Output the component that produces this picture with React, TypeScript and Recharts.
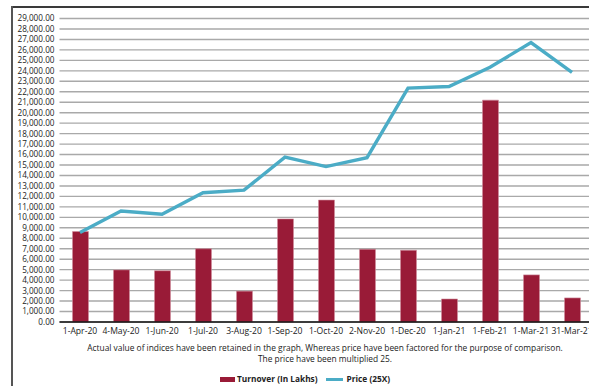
import { ComposedChart, Bar, Line, XAxis, YAxis, CartesianGrid } from "recharts"

const dates = [
  "1-Apr-20", "4-May-20", "1-Jun-20", "1-Jul-20", "3-Aug-20", "1-Sep-20", "1-Oct-20",
  "2-Nov-20", "1-Dec-20", "1-Jan-21", "1-Feb-21", "1-Mar-21", "31-Mar-21",
]
const turnover = [8640, 4980, 4900, 7000, 2950, 9850, 11650, 6950, 6850, 2200, 21200, 4500, 2300]
const price25x = [8550, 10600, 10300, 12350, 12600, 15750, 14850, 15700, 22350, 22500, 24350, 26700, 23850]
const yTicks = Array.from({ length: 30 }, (_, i) => i * 1000)

const turnoverName = "Turnover (In Lakhs)"
const priceName = "Price (25X)"
const noteLines = [
  "Actual value of indices have been retained in the graph, Whereas price have been factored for the purpose of comparison.",
  "The price have been multiplied 25.",
]

const data = dates.map((d, i) => ({ date: d, turnover: turnover[i], price: price25x[i] }))

const BAR = "#991b37"
const LINE = "#4bacc6"
const FONT = "'Open Sans', sans-serif"

const fmt = (v: number) =>
  v.toLocaleString("en-US", { minimumFractionDigits: 2, maximumFractionDigits: 2 })

export default function App() {
  return (
    <div
      style={{
        position: "fixed", left: 0, top: 0, width: 589, height: 386,
        overflow: "hidden", background: "#fff", fontFamily: FONT,
      }}
    >
      {/* frame */}
      <div style={{ position: "absolute", left: 11, top: 6, width: 600, height: 2, background: "#3a3a3a" }} />
      <div style={{ position: "absolute", left: 11, top: 6, width: 2, height: 400, background: "#555" }} />

      <div style={{ position: "absolute", left: 0, top: 0 }}>
        <ComposedChart
          width={600}
          height={340}
          data={data}
          margin={{ top: 18.5, right: 7.5, left: 0, bottom: 0 }}
        >
          <CartesianGrid vertical={false} stroke="#a9a9a9" strokeWidth={1.4} />
          <XAxis
            dataKey="date"
            interval={0}
            height={18}
            tickLine={false}
            tickSize={0}
            tickMargin={6}
            axisLine={{ stroke: "#111", strokeWidth: 1.6 }}
            tick={{ fill: "#222", fontSize: 8.6, fontFamily: FONT }}
          />
          <YAxis
            width={59.5}
            domain={[0, 29000]}
            ticks={yTicks}
            interval={0}
            tickFormatter={fmt}
            axisLine={false}
            tickLine={false}
            tickSize={0}
            tickMargin={5}
            tick={{ fill: "#222", fontSize: 8.2, fontFamily: FONT }}
          />
          <Bar
            dataKey="turnover"
            name={turnoverName}
            fill={BAR}
            stroke="#d08f9d"
            strokeWidth={0.6}
            barSize={16}
            isAnimationActive={false}
          />
          <Line
            dataKey="price"
            name={priceName}
            type="linear"
            stroke={LINE}
            strokeWidth={3.4}
            dot={false}
            isAnimationActive={false}
          />
        </ComposedChart>
      </div>

      {/* footnote */}
      <div
        style={{
          position: "absolute", left: 60, width: 530, top: 342, textAlign: "center",
          fontSize: 8.4, lineHeight: "11px", color: "#222",
        }}
      >
        {noteLines.map((t) => (
          <div key={t}>{t}</div>
        ))}
      </div>

      {/* legend */}
      <div
        style={{
          position: "absolute", left: 220, top: 373, display: "flex", alignItems: "center",
          fontSize: 8.3, fontWeight: 700, color: "#222", lineHeight: "12px",
        }}
      >
        <span style={{ display: "inline-block", width: 15, height: 5, background: BAR, marginRight: 2 }} />
        <span>{turnoverName}</span>
        <span style={{ display: "inline-block", width: 17, height: 3, background: LINE, marginLeft: 8, marginRight: 4 }} />
        <span>{priceName}</span>
      </div>
    </div>
  )
}
